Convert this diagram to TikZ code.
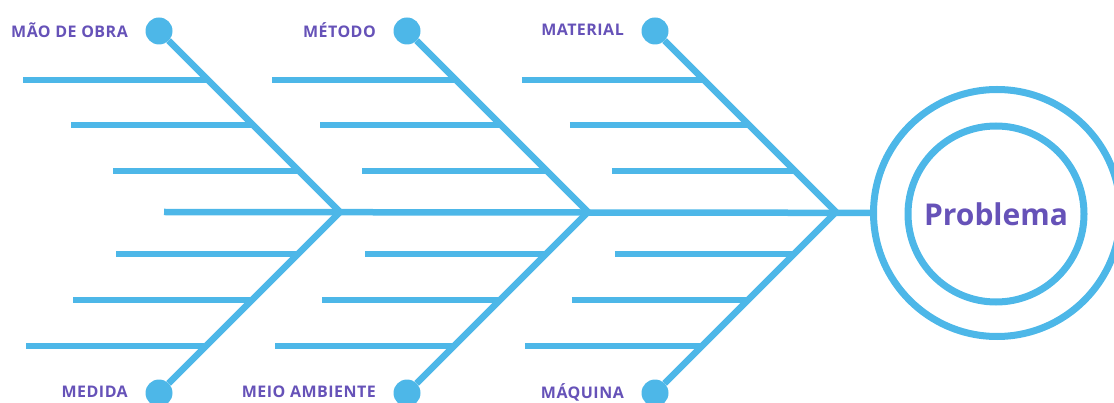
\documentclass[tikz,border=0pt]{standalone}
\usepackage{fontspec}
\setmainfont{Open Sans}
\newfontfamily\causefont[LetterSpace=3]{Open Sans}
\definecolor{bone}{RGB}{77,183,232}
\definecolor{ink}{RGB}{102,82,184}
\tikzset{
  x=1pt, y=-1pt,
  boneline/.style={draw=bone, line width=6.5pt, line join=miter},
  rib/.style={draw=bone, line width=6.5pt},
  dot/.style={circle, fill=bone, minimum size=27pt, inner sep=0pt, outer sep=0pt},
  cause/.style={text=ink, font=\causefont\fontsize{16}{18}\selectfont\bfseries, anchor=east, inner sep=0pt},
  ring/.style={circle, draw=bone, line width=7pt, inner sep=0pt},
}
\begin{document}
\begin{tikzpicture}
\useasboundingbox (0,0) rectangle (1114,403);
\clip (0,0) rectangle (1114,403);

% effect: the problem inside two rings
\node[ring, minimum size=247pt] (prob) at (997,213) {};
\node[ring, minimum size=176pt, text=ink, font=\fontsize{30}{34}\selectfont\bfseries] (probin) at (996,214) {Problema};

% spine
\coordinate (tail) at (164,212);
\draw[rib] (tail) -- (prob);

% three main bones, each with a top and a bottom cause
\foreach \s/\top/\bot in {0/MÃO DE OBRA/MEDIDA, 1/MÉTODO/MEIO AMBIENTE, 2/MATERIAL/MÁQUINA} {
  \pgfmathsetmacro{\dx}{248*\s}
  \coordinate (j\s) at (340+\dx,212);
  \node[dot] (t\s) at (159+\dx,31) {};
  \node[dot] (b\s) at (159+\dx,393) {};
  \node[cause] (lt\s) at (128+\dx,30) {\top};
  \node[cause] (lb\s) at (128+\dx,392) {\bot};
  \draw[boneline] (t\s) -- (j\s) -- (b\s);
  % ribs: left end and the point where they meet the bone
  \foreach \y/\x in {80/23, 125/71, 171/113, 254/116, 300/73, 346/26} {
    \pgfmathsetmacro{\ex}{340+\dx-abs(212-\y)}
    \coordinate (r\s-\y) at (\x+\dx*1.006,\y);
    \coordinate (e\s-\y) at (\ex,\y);
    \draw[rib] (r\s-\y) -- (e\s-\y);
  }
}
\end{tikzpicture}
\end{document}
